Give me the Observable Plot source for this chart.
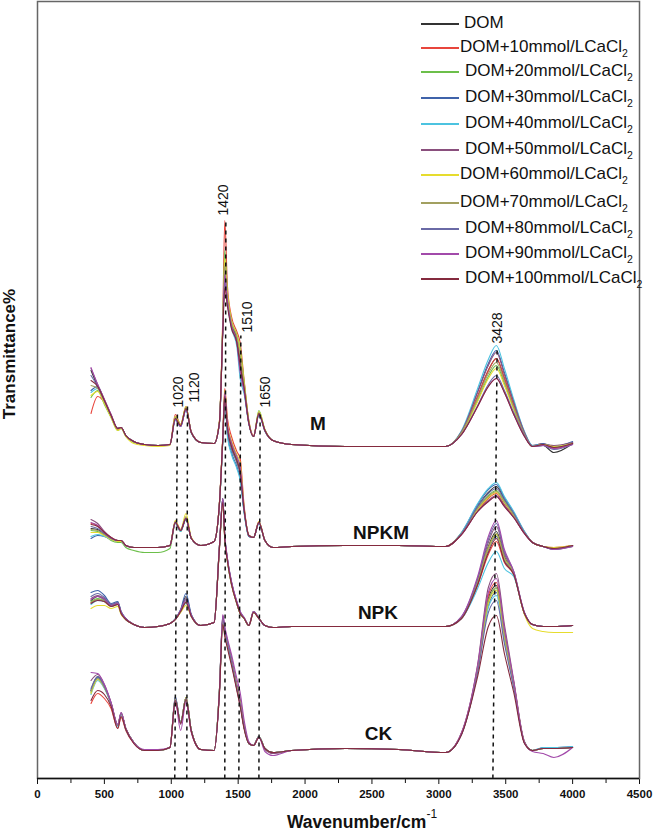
<!DOCTYPE html>
<html><head><meta charset="utf-8">
<script src="https://cdn.jsdelivr.net/npm/d3@7"></script>
<script src="https://cdn.jsdelivr.net/npm/@observablehq/plot@0.6"></script>
<style>
body{margin:0;background:#fff;font-family:"Liberation Sans",Arial,sans-serif;}
#wrap{position:relative;width:654px;height:833px;overflow:hidden;background:#fff;}
#chart{position:absolute;left:0;top:0;}
#chart svg g[aria-label^="x-axis"] text{font-weight:bold;font-size:11.5px;fill:#111;}
.legline{position:absolute;height:1.5px;width:38px;left:421px;}
.legtxt{position:absolute;font-size:17px;line-height:20px;color:#111;white-space:nowrap;}
.legtxt sub{font-size:10.5px;vertical-align:-5px;line-height:0;}
#xtitle{position:absolute;left:287px;top:811px;font-size:17.5px;font-weight:bold;color:#111;white-space:nowrap;line-height:22px;}
#xtitle sup{font-size:12px;font-weight:normal;vertical-align:10px;line-height:0;}
#ytitle{position:absolute;left:10px;top:354px;transform:translate(-50%,-50%) rotate(-90deg);font-size:17px;line-height:18px;font-weight:bold;color:#111;white-space:nowrap;}
</style></head>
<body><div id="wrap"><div id="chart"></div></div>
<script>
// Wavenumber grid (cm^-1) shared by every spectrum
const wavenumbers = [400,450,500,550,600,625,660,720,800,900,990, 1030,1070,1110,1150,1220,1320, 1360,1385,1400,1420,1450,1490,1515,1545,1580,1615,1655,1700,1760, 1900,2300,2700,3050, 3170,3290,3370,3430,3490,3560,3640,3700,3780,3860,4000];

const seriesNames = ["DOM","DOM+10mmol/LCaCl2","DOM+20mmol/LCaCl2","DOM+30mmol/LCaCl2","DOM+40mmol/LCaCl2","DOM+50mmol/LCaCl2","DOM+60mmol/LCaCl2","DOM+70mmol/LCaCl2","DOM+80mmol/LCaCl2","DOM+90mmol/LCaCl2","DOM+100mmol/LCaCl2"];
const seriesColors = ["#333333","#e8453c","#6cbf4a","#3f63aa","#4cc3e0","#8a4f7d","#e6dc2e","#a2a060","#6a6aa6","#a24aaa","#842a3e"];

const groupNames = ["M","NPKM","NPK","CK"];
const groupOffsets = [332, 232, 152, 28]; // vertical stacking offsets (transmittance units)

// Spectra (height above each group's baseline), one row per series
const specM = [
 [76,60,46,31,18,19,11,5,2,1,2, 28,21,38,14,4,3, 24,118,172,146,122,108,86,60,24,10,33,16,6, 2,0,0,0, 14,50,76,88,68,41,13,0,1,-6,3],
 [33,50,44,30,17,19,11,5,2,1,2, 32,22,40,14,4,3, 26,130,226,160,130,115,104,66,26,11,34,16,6, 2,0,0,0, 14,50,76,88,68,41,13,1,3,-2,3],
 [49,56,42,29,16,18,10,4,2,1,2, 30,22,39,14,4,3, 25,122,196,152,126,112,98,64,25,10,36,17,6, 2,0,0,0, 13,46,70,81,63,38,12,0,2,0,4],
 [56,60,46,31,18,19,11,5,2,1,2, 27,20,37,14,4,3, 24,120,184,148,120,104,76,55,23,10,32,16,6, 2,0,0,0, 15,55,83,96,74,45,14,1,3,0,5],
 [54,58,45,30,18,19,11,5,2,1,2, 26,20,36,13,4,3, 23,116,170,142,118,100,68,52,22,10,31,15,6, 2,0,0,0, 16,58,87,101,78,47,15,1,2,0,4],
 [78,62,47,32,18,19,11,5,2,1,2, 28,21,38,14,4,3, 24,118,178,146,121,106,81,58,23,10,33,16,6, 2,0,0,0, 15,54,81,94,72,44,14,0,2,1,4],
 [51,55,43,29,16,18,10,3,1,0,1, 30,22,40,14,4,3, 25,124,188,154,126,112,96,64,25,10,35,17,6, 2,0,0,0, 13,45,68,78,61,37,11,0,2,0,3],
 [61,58,45,31,18,19,11,5,2,1,2, 29,21,39,14,4,3, 24,120,180,150,124,110,91,62,24,10,34,16,6, 2,0,0,0, 14,48,73,84,65,39,12,0,2,-1,3],
 [71,60,46,31,18,19,11,5,2,1,2, 27,20,37,14,4,3, 23,116,166,144,120,104,78,56,23,10,32,16,6, 2,0,0,0, 12,41,62,71,56,34,11,0,1,-3,2],
 [79,62,47,32,18,19,11,5,2,1,2, 27,20,37,14,4,3, 23,116,172,144,120,104,74,55,23,10,32,16,6, 2,0,0,0, 12,40,60,68,54,32,10,0,1,-2,2],
 [66,60,46,31,18,19,11,5,2,1,2, 28,21,38,14,4,3, 24,114,158,140,118,104,81,58,23,10,33,16,6, 2,0,0,0, 12,40,60,68,54,32,10,0,2,-1,3]
];
const specNPKM = [
 [18,17,12,8,6,6,1,-1,-1,-1,1, 24,16,28,8,1,5, 43,108,152,118,100,86,74,36,11,9,24,6,-1, 0,1,1,0, 13,40,54,60,47,33,14,4,0,-2,1],
 [23,21,14,9,6,6,1,-1,-1,-1,1, 25,17,29,8,1,5, 44,110,158,128,110,95,88,40,11,9,25,6,-1, 0,1,1,0, 12,36,48,53,42,30,13,4,0,-1,1],
 [16,15,11,6,4,4,-1,-4,-6,-6,-2, 23,15,28,8,1,5, 42,106,150,116,98,84,72,35,10,9,24,6,-1, 0,1,1,0, 13,38,51,56,45,32,14,4,0,-2,0],
 [8,11,10,7,5,5,1,-1,-1,-1,1, 24,16,27,8,1,5, 43,106,148,112,94,80,68,34,10,9,23,6,-1, 0,1,1,0, 14,42,57,62,49,34,15,4,0,-3,1],
 [10,12,10,7,5,5,1,-1,-1,-1,1, 23,15,27,8,1,5, 42,104,146,110,92,78,66,33,10,9,23,6,-1, 0,1,1,0, 14,43,58,64,50,35,15,4,0,-2,1],
 [27,23,15,9,6,6,1,-1,-1,-1,1, 24,16,28,8,1,5, 43,108,152,120,102,88,78,37,11,9,24,6,-1, 0,1,1,0, 12,35,46,51,41,29,13,4,0,-2,1],
 [14,14,11,7,5,5,1,-1,-1,-1,1, 26,17,33,9,1,5, 44,110,156,124,106,92,84,39,11,9,25,6,-1, 0,1,1,0, 13,37,49,54,44,31,14,4,0,-1,1],
 [17,16,12,8,6,6,1,-1,-1,-1,1, 25,16,30,8,1,5, 43,108,152,120,102,88,78,37,11,9,24,6,-1, 0,1,1,0, 13,38,50,55,44,31,14,4,0,-2,1],
 [20,18,13,8,6,6,1,-1,-1,-1,1, 24,16,28,8,1,5, 43,106,150,116,98,84,72,35,10,9,24,6,-1, 0,1,1,0, 13,40,53,58,47,33,14,4,0,-3,0],
 [24,21,14,9,6,6,1,-1,-1,-1,1, 24,16,28,8,1,5, 43,108,154,122,104,90,80,38,11,9,24,6,-1, 0,1,1,0, 12,35,45,50,40,29,13,4,0,-3,0],
 [22,20,14,9,6,6,1,-1,-1,-1,1, 24,16,28,8,1,5, 43,108,150,118,100,86,74,36,11,9,24,6,-1, 0,1,1,0, 12,35,45,50,40,29,13,4,0,-2,1]
];
const specNPK = [
 [26,30,27,21,23,14,8,2,-1,0,3, 7,16,30,11,1,4, 80,128,90,67,44,24,14,8,1,15,8,1,-1, 0,0,0,0, 9,45,80,95,70,53,13,2,0,0,1],
 [24,27,25,20,22,13,7,2,-1,0,3, 7,15,24,10,1,4, 78,124,87,65,42,23,13,8,1,14,8,1,-1, 0,0,0,0, 8,41,72,85,64,52,13,2,0,0,1],
 [25,28,26,21,23,14,8,2,-1,0,3, 7,15,25,11,1,4, 80,126,89,66,43,23,13,8,1,15,8,1,-1, 0,0,0,0, 9,44,78,92,68,53,13,2,0,0,1],
 [34,36,31,23,25,15,8,2,-1,0,3, 8,17,33,12,1,4, 80,126,89,66,43,23,13,8,1,15,8,1,-1, 0,0,0,0, 9,43,77,90,67,53,13,2,0,0,1],
 [22,26,25,20,22,13,7,2,-1,0,3, 7,15,23,10,1,4, 78,124,87,64,42,23,13,8,1,14,8,1,-1, 0,0,0,0, 8,38,64,75,58,50,13,2,0,0,1],
 [28,31,28,22,24,14,8,2,-1,0,3, 7,16,28,11,1,4, 80,128,90,67,44,24,14,8,1,15,8,1,-1, 0,0,0,0, 9,47,84,100,73,54,13,2,0,0,1],
 [18,21,21,18,20,12,7,2,-1,0,3, 7,14,21,10,1,4, 78,124,87,65,42,23,13,8,1,14,8,1,-1, 0,0,0,0, 9,44,78,92,68,54,12,-2,-5,-6,-6],
 [24,27,25,20,22,13,7,2,-1,0,3, 7,15,24,10,1,4, 80,126,89,66,43,23,13,8,1,15,8,1,-1, 0,0,0,0, 9,44,79,93,69,53,13,2,0,0,1],
 [30,33,29,22,24,15,8,2,-1,0,3, 7,16,27,11,1,4, 80,128,91,68,45,25,15,9,1,15,8,1,-1, 0,0,0,0, 10,48,87,103,75,55,14,2,0,0,1],
 [27,30,27,21,23,14,8,2,-1,0,3, 7,16,26,11,1,4, 80,128,91,68,45,25,15,9,1,15,8,1,-1, 0,0,0,0, 10,50,90,106,77,55,14,2,0,0,1],
 [23,26,25,20,22,13,7,2,-1,0,3, 7,15,24,10,1,4, 78,124,87,65,42,23,13,8,1,14,8,1,-1, 0,0,0,0, 8,42,74,88,65,52,13,2,0,0,1]
];
const specCK = [
 [60,74,64,47,25,37,22,8,0,0,3, 52,28,53,20,1,0, 60,132,120,108,90,63,47,23,7,5,14,2,-2, 0,2,1,-2, 17,82,152,165,117,67,8,0,2,2,3],
 [47,57,52,42,22,33,20,7,0,0,3, 50,27,51,19,1,0, 58,128,116,104,87,61,45,22,7,5,13,2,-2, 0,2,1,-2, 17,83,155,168,119,68,8,0,2,2,3],
 [58,72,63,47,25,37,22,8,0,0,3, 52,28,53,20,1,0, 60,131,119,107,89,63,47,23,7,5,14,2,-2, 0,2,1,-2, 17,81,149,162,115,66,8,0,2,2,3],
 [60,73,64,47,25,37,22,8,0,0,3, 54,28,52,20,1,0, 61,134,121,108,90,63,47,23,7,5,14,2,-2, 0,2,1,-2, 17,80,145,158,112,65,8,0,3,3,4],
 [56,70,62,46,24,36,21,8,0,0,3, 51,28,52,20,1,0, 59,130,118,106,88,62,46,23,7,5,14,2,-2, 0,2,1,-2, 17,79,143,155,110,64,8,0,3,3,4],
 [70,76,66,48,26,38,22,8,0,0,3, 51,26,53,20,1,0, 61,135,122,110,93,67,52,26,8,5,14,1,-3, 0,2,1,-2, 18,86,163,177,126,70,9,0,2,2,3],
 [57,71,63,47,25,37,22,8,0,0,3, 52,28,53,20,1,0, 60,130,118,106,89,63,47,23,7,5,14,2,-2, 0,2,1,-2, 17,81,147,160,114,66,8,0,2,2,3],
 [59,72,63,47,25,37,22,8,0,0,3, 52,28,53,20,1,0, 60,131,119,107,89,63,47,23,7,5,14,2,-2, 0,2,1,-2, 17,82,150,163,116,67,8,0,2,2,3],
 [62,74,64,47,25,37,22,8,0,0,3, 53,28,52,20,1,0, 60,132,120,107,89,62,46,23,7,5,14,2,-2, 0,2,1,-2, 16,78,138,150,107,63,8,0,2,2,3],
 [78,77,66,48,26,38,22,8,1,1,3, 48,20,48,18,1,0, 58,136,124,112,96,72,58,30,9,5,13,-1,-5, 0,2,1,-2, 18,85,158,172,122,69,8,-1,-3,-7,3],
 [50,60,56,44,22,34,21,7,0,0,3, 50,27,51,19,1,0, 57,126,114,102,85,60,44,21,7,5,13,2,-2, 0,2,1,-2, 16,74,124,135,97,58,7,0,2,2,3]
];
const groupSpectra = [specM, specNPKM, specNPK, specCK];

// Peak markers (dashed guides) and their labels
const peakLabels = ["1020","1120","1420","1510","1650","3428"];
const peakLineBottom = [1026,1116,1400,1505,1655,3404];
const peakLineTop = [1046,1121,1408,1520,1664,3436];
const peakLineTopT = [368,373,560,443,368,432];
const peakLabelX = [1052,1172,1393,1570,1707,3442];
const peakLabelT = [371,376,563,446,371,435];

// Group labels
const groupLabelX = [2096,2568,2545,2549];
const groupLabelT = [355,246,166,45];

// Axis ticks
const majorTicks = [0,500,1000,1500,2000,2500,3000,3500,4000,4500];
const minorTicks = [250,750,1250,1750,2250,2750,3250,3750,4250];

const legendY = [23,47,71,97,123,149,174,202,228,253,278];
const legendTextX = [464,460,465,465,465,465,460,460,465,465,465];

// build tidy rows
const rows = [];
groupNames.forEach((g, gi) => {
  groupSpectra[gi].forEach((arr, si) => {
    if (arr.length !== wavenumbers.length) console.error("length mismatch", g, si, arr.length);
    arr.forEach((h, i) => rows.push({group: g, series: seriesNames[si], wn: wavenumbers[i], t: groupOffsets[gi] + h}));
  });
});
const peaks = peakLabels.map((l, i) => ({label: l, xb: peakLineBottom[i], xt: peakLineTop[i], tt: peakLineTopT[i], lx: peakLabelX[i], lt: peakLabelT[i]}));
const glabels = groupNames.map((g, i) => ({g, x: groupLabelX[i], t: groupLabelT[i]}));

const plot = Plot.plot({
  width: 654,
  height: 833,
  marginLeft: 37,
  marginRight: 15,
  marginTop: 1,
  marginBottom: 55,
  style: {fontFamily: "'Liberation Sans', Arial, sans-serif", fontSize: "11.5px", fontWeight: "bold", color: "#111", background: "#fff", overflow: "visible"},
  x: {domain: [0, 4500], ticks: majorTicks, tickFormat: d => String(d), tickSize: 6, tickPadding: 5, label: null},
  y: {domain: [0, 777], axis: null},
  color: {domain: seriesNames, range: seriesColors},
  marks: [
    Plot.line(rows, {x: "wn", y: "t", z: d => d.group + "|" + d.series, stroke: "series", strokeWidth: 1.1, curve: "monotone-x"}),
    Plot.link(peaks, {x1: "xb", y1: () => 0, x2: "xt", y2: "tt", stroke: "#111", strokeWidth: 1.5, strokeDasharray: "4,4"}),
    Plot.text(peaks, {x: "lx", y: "lt", text: "label", rotate: -90, textAnchor: "start", fontSize: 14, fontWeight: "normal", fill: "#111"}),
    Plot.text(glabels, {x: "x", y: "t", text: "g", fontSize: 19, fontWeight: "bold", fill: "#111"}),
    Plot.ruleX(minorTicks, {y1: 0, y2: -5, stroke: "#111"}),
    Plot.frame({stroke: "#666", strokeWidth: 1.5}),
    Plot.ruleY([0], {stroke: "#111", strokeWidth: 1.5})
  ]
});
document.getElementById("chart").appendChild(plot);

// legend (HTML overlay)
const wrap = document.getElementById("wrap");
seriesNames.forEach((name, i) => {
  const ln = document.createElement("div");
  ln.className = "legline";
  ln.style.top = legendY[i] + "px";
  ln.style.background = seriesColors[i];
  wrap.appendChild(ln);
  const tx = document.createElement("div");
  tx.className = "legtxt";
  tx.style.left = legendTextX[i] + "px";
  tx.style.top = (legendY[i] - 10) + "px";
  if (name.endsWith("CaCl2")) {
    tx.innerHTML = name.slice(0, -1) + "<sub>2</sub>";
  } else tx.textContent = name;
  wrap.appendChild(tx);
});
const xt = document.createElement("div");
xt.id = "xtitle";
xt.innerHTML = "Wavenumber/cm<sup>-1</sup>";
wrap.appendChild(xt);
const yt = document.createElement("div");
yt.id = "ytitle";
yt.textContent = "Transmittance%";
wrap.appendChild(yt);
</script>
</body></html>
